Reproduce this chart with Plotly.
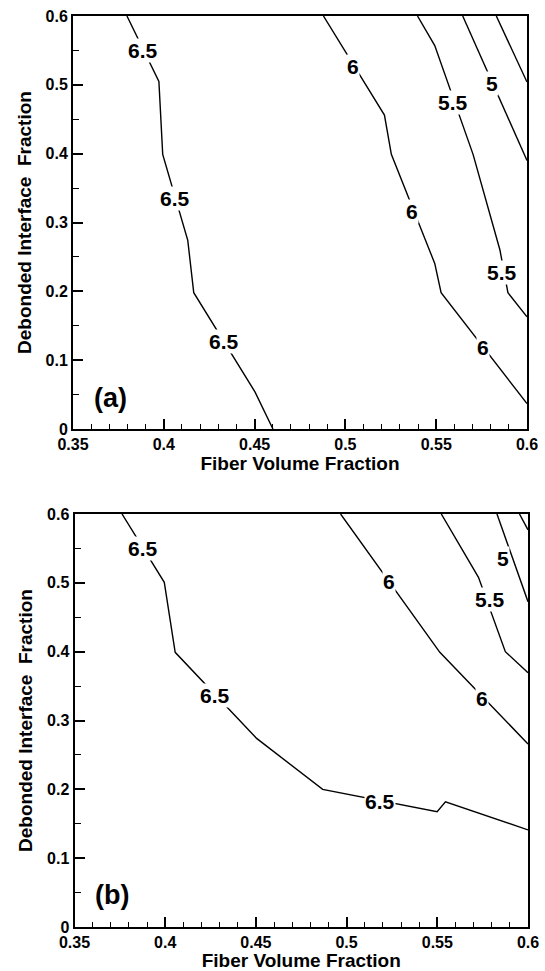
import plotly.graph_objects as go

# ---------------- data ----------------
X_TICKS = [0.35, 0.4, 0.45, 0.5, 0.55, 0.6]
X_TICK_TEXT = ["0.35", "0.4", "0.45", "0.5", "0.55", "0.6"]
Y_TICKS = [0, 0.1, 0.2, 0.3, 0.4, 0.5, 0.6]
Y_TICK_TEXT = ["0", "0.1", "0.2", "0.3", "0.4", "0.5", "0.6"]

# panel (a) contour lines
A_65_X = [0.3797, 0.3973, 0.3994, 0.4132, 0.4165, 0.4502, 0.4601]
A_65_Y = [0.600, 0.505, 0.399, 0.274, 0.198, 0.054, 0.000]
A_60_X = [0.4879, 0.5215, 0.5253, 0.5492, 0.5527, 0.6000]
A_60_Y = [0.600, 0.456, 0.399, 0.2405, 0.198, 0.037]
A_55_X = [0.5397, 0.5492, 0.5703, 0.5851, 0.5895, 0.6000]
A_55_Y = [0.600, 0.557, 0.399, 0.260, 0.198, 0.163]
A_50_X = [0.5646, 0.6000]
A_50_Y = [0.600, 0.390]
A_45_X = [0.5831, 0.6000]
A_45_Y = [0.600, 0.504]

# panel (a) contour labels
A_LABEL_TEXT = ["6.5", "6.5", "6.5", "6", "6", "6", "5.5", "5.5", "5"]
A_LABEL_X = [0.3883, 0.4061, 0.4329, 0.5042, 0.5368, 0.5755, 0.5594, 0.5862, 0.5805]
A_LABEL_Y = [0.550, 0.335, 0.127, 0.526, 0.3155, 0.118, 0.475, 0.227, 0.502]

# panel (b) contour lines
B_65_X = [0.3762, 0.3995, 0.4055, 0.4504, 0.4868, 0.5499, 0.5545, 0.6000]
B_65_Y = [0.600, 0.5007, 0.399, 0.274, 0.200, 0.1676, 0.182, 0.141]
B_60_X = [0.4967, 0.5514, 0.6000]
B_60_Y = [0.600, 0.399, 0.266]
B_55_X = [0.5522, 0.5618, 0.5727, 0.5875, 0.6000]
B_55_Y = [0.600, 0.557, 0.508, 0.400, 0.3695]
B_50_X = [0.5829, 0.6000]
B_50_Y = [0.600, 0.4726]
B_45_X = [0.5953, 0.6000]
B_45_Y = [0.600, 0.577]

# panel (b) contour labels
B_LABEL_TEXT = ["6.5", "6.5", "6.5", "6", "6", "5.5", "5"]
B_LABEL_X = [0.3877, 0.4273, 0.5183, 0.5235, 0.5748, 0.5792, 0.5861]
B_LABEL_Y = [0.5501, 0.337, 0.182, 0.5017, 0.332, 0.476, 0.5356]

PANEL_TAGS = ["(a)", "(b)"]

# ---------------- figure ----------------
W, H = 545, 971
FONT = "Liberation Sans, Arial, Helvetica, sans-serif"

fig = go.Figure()

def add_lines(lines, xa, ya):
    for xs, ys in lines:
        fig.add_trace(go.Scatter(x=xs, y=ys, mode="lines", xaxis=xa, yaxis=ya,
                                 line=dict(color="black", width=1.4),
                                 showlegend=False, hoverinfo="skip"))

add_lines([(A_65_X, A_65_Y), (A_60_X, A_60_Y), (A_55_X, A_55_Y),
           (A_50_X, A_50_Y), (A_45_X, A_45_Y)], "x", "y")
add_lines([(B_65_X, B_65_Y), (B_60_X, B_60_Y), (B_55_X, B_55_Y),
           (B_50_X, B_50_Y), (B_45_X, B_45_Y)], "x2", "y2")

annotations = []
def add_labels(texts, xs, ys, xr, yr):
    for t, x, y in zip(texts, xs, ys):
        annotations.append(dict(x=x, y=y, xref=xr, yref=yr, text=t, showarrow=False,
                                bgcolor="white", borderpad=0,
                                font=dict(family=FONT, size=21, color="black", weight="bold"),
                                xanchor="center", yanchor="middle"))

add_labels(A_LABEL_TEXT, A_LABEL_X, A_LABEL_Y, "x", "y")
add_labels(B_LABEL_TEXT, B_LABEL_X, B_LABEL_Y, "x2", "y2")

for tag, xr, yr, yv in [(PANEL_TAGS[0], "x", "y", 0.045), (PANEL_TAGS[1], "x2", "y2", 0.047)]:
    annotations.append(dict(x=0.3705, y=yv, xref=xr, yref=yr, text=tag, showarrow=False,
                            font=dict(family=FONT, size=27, color="black", weight="bold"),
                            xanchor="center", yanchor="middle"))

def xaxis_style(domain, anchor):
    return dict(domain=domain, anchor=anchor, range=[0.35, 0.6], automargin=False,
                tickvals=X_TICKS, ticktext=X_TICK_TEXT,
                ticks="inside", ticklen=10, tickwidth=1.5, tickcolor="black",
                minor=dict(ticks="inside", dtick=0.01, tick0=0.35, ticklen=5,
                           tickwidth=1.2, tickcolor="black"),
                showline=True, linecolor="black", linewidth=2, mirror=True,
                showgrid=False, zeroline=False,
                tickfont=dict(family=FONT, size=16, color="black", weight="bold"),
                title=dict(text="Fiber Volume Fraction", standoff=4,
                           font=dict(family=FONT, size=19, color="black", weight="bold")))

def yaxis_style(domain, anchor):
    return dict(domain=domain, anchor=anchor, range=[0, 0.6], automargin=False,
                tickvals=Y_TICKS, ticktext=Y_TICK_TEXT,
                ticks="inside", ticklen=10, tickwidth=1.5, tickcolor="black",
                minor=dict(ticks="inside", dtick=0.05, tick0=0, ticklen=6,
                           tickwidth=1.2, tickcolor="black"),
                showline=True, linecolor="black", linewidth=2, mirror=True,
                showgrid=False, zeroline=False,
                tickfont=dict(family=FONT, size=16, color="black", weight="bold"),
                title=dict(text="Debonded Interface\u00a0 Fraction", standoff=9,
                           font=dict(family=FONT, size=19, color="black", weight="bold")))

fig.update_layout(
    width=W, height=H,
    margin=dict(l=0, r=0, t=0, b=0, autoexpand=False),
    paper_bgcolor="white", plot_bgcolor="white",
    xaxis=xaxis_style([73 / W, 527 / W], "y"),
    yaxis=yaxis_style([1 - 429 / H, 1 - 16 / H], "x"),
    xaxis2=xaxis_style([74.5 / W, 528 / W], "y2"),
    yaxis2=yaxis_style([1 - 927 / H, 1 - 514 / H], "x2"),
    annotations=annotations,
)

fig.write_html("out.html")
